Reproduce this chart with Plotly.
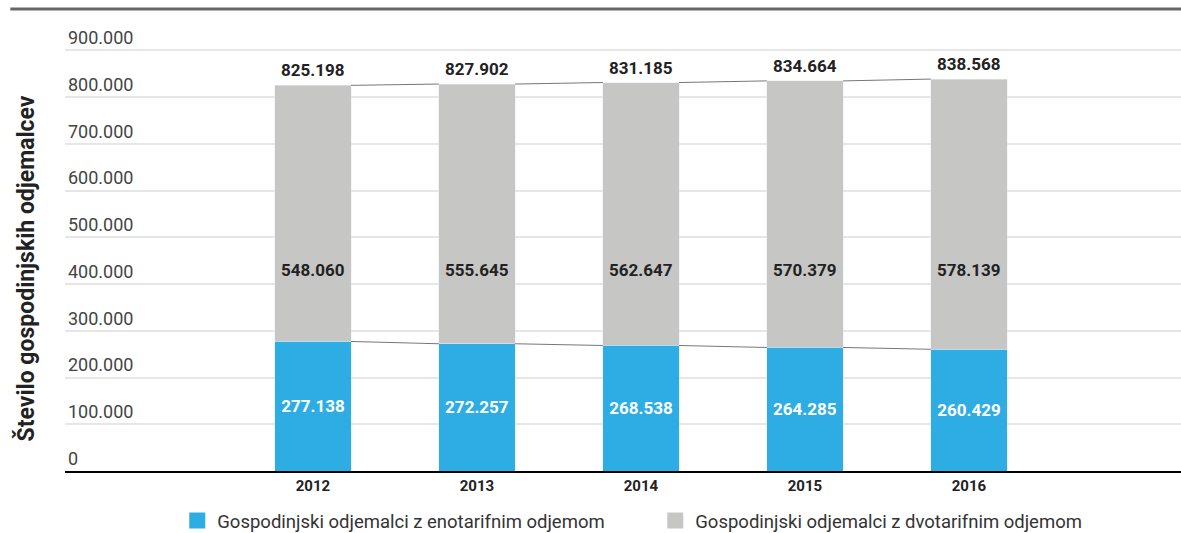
import plotly.graph_objects as go

years = ["2012", "2013", "2014", "2015", "2016"]
enotarifni = [277138, 272257, 268538, 264285, 260429]
dvotarifni = [548060, 555645, 562647, 570379, 578139]
skupaj = [825198, 827902, 831185, 834664, 838568]
y_ticks = [0, 100000, 200000, 300000, 400000, 500000, 600000, 700000, 800000, 900000]
y_ticktext = ["0", "100.000", "200.000", "300.000", "400.000", "500.000",
              "600.000", "700.000", "800.000", "900.000"]

BLUE = "#2DADE3"
GRAY = "#C6C6C5"
FONT = "Roboto, sans-serif"

def fmt(v):
    return f"{v:,}".replace(",", ".")

xs = list(range(len(years)))
bw = 0.465

fig = go.Figure()
fig.add_bar(x=xs, y=enotarifni, width=bw, marker_color=BLUE, showlegend=False,
            text=[f"<b>{fmt(v)}</b>" for v in enotarifni], textposition="inside",
            insidetextanchor="middle", textangle=0,
            textfont=dict(color="white", size=17, family=FONT), hoverinfo="skip")
fig.add_bar(x=xs, y=dvotarifni, width=bw, marker_color=GRAY, showlegend=False,
            hoverinfo="skip")

# connecting lines
for series in (enotarifni, skupaj):
    lx, ly = [], []
    for i in range(len(xs) - 1):
        lx += [xs[i] + bw / 2, xs[i + 1] - bw / 2, None]
        ly += [series[i], series[i + 1], None]
    fig.add_scatter(x=lx, y=ly, mode="lines", line=dict(color="#777777", width=1),
                    showlegend=False, hoverinfo="skip")

# labels
for i, x in enumerate(xs):
    fig.add_annotation(x=x, y=skupaj[i], text=f"<b>{fmt(skupaj[i])}</b>", showarrow=False,
                       yanchor="bottom", yshift=3, font=dict(size=17, color="#222", family=FONT))
    fig.add_annotation(x=x, y=430000, text=f"<b>{fmt(dvotarifni[i])}</b>", showarrow=False,
                       font=dict(size=17, color="#222", family=FONT))

# y title
fig.add_annotation(xref="paper", yref="paper", x=-0.049, y=0.457, textangle=-90,
                   text="<b>Število gospodinjskih odjemalcev</b>", showarrow=False,
                   font=dict(size=23, color="#222", family=FONT))

# legend entries
fig.add_scatter(x=[None], y=[None], mode="markers", name="Gospodinjski odjemalci z enotarifnim odjemom",
                marker=dict(symbol="square", size=16, color=BLUE))
fig.add_scatter(x=[None], y=[None], mode="markers", name="Gospodinjski odjemalci z dvotarifnim odjemom",
                marker=dict(symbol="square", size=16, color=GRAY))

fig.update_layout(
    barmode="stack",
    width=1181, height=533,
    margin=dict(l=65, r=0, t=27, b=62, autoexpand=False),
    plot_bgcolor="white", paper_bgcolor="white",
    font=dict(family=FONT, color="#333"),
    legend=dict(orientation="h", x=0.1006, xanchor="left", yref="container", y=0.0225,
                yanchor="middle", traceorder="normal",
                entrywidth=433, itemsizing="trace", font=dict(size=18.5, color="#333"),
                itemwidth=30),
    xaxis=dict(tickvals=xs, ticktext=[f"<b>{y}</b>" for y in years], range=[-1.512, 5.293],
               showgrid=False, showline=True, linecolor="black", linewidth=1.5,
               tickfont=dict(size=15, color="#222"), ticks="", zeroline=False, automargin=False),
    yaxis=dict(range=[0, 950000], tickvals=y_ticks, ticktext=y_ticktext,
               ticklabelposition="inside top", showgrid=True, gridcolor="#e6e6e6", gridwidth=1.5,
               tickfont=dict(size=18, color="#444"), zeroline=False, automargin=False),
    shapes=[dict(type="line", xref="paper", yref="paper", x0=-0.049, x1=1,
                 y0=1.0405, y1=1.0405, line=dict(color="#666", width=3))],
)

fig.write_html("out.html", post_script="document.body.style.margin='0';",
               config={"displayModeBar": False})
